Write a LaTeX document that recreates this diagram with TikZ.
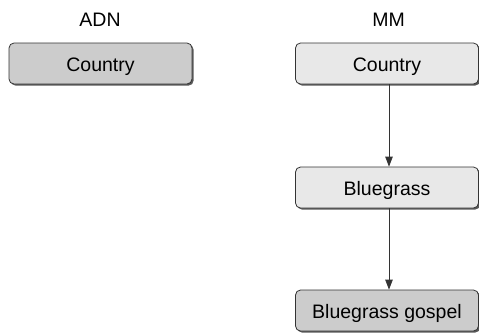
\documentclass[tikz,border=0pt]{standalone}
\usepackage{fontspec}
\setmainfont{Liberation Sans}
\usetikzlibrary{shadows,arrows.meta}
\definecolor{boxdark}{HTML}{CCCCCC}
\definecolor{boxlight}{HTML}{E8E8E8}
\definecolor{edge}{HTML}{333333}
\begin{document}
\begin{tikzpicture}[x=1pt,y=1pt,
  box/.style={draw=edge, line width=0.8pt, rounded corners=5pt, minimum width=183pt, minimum height=41pt,
    inner sep=0pt, text height=16.5pt, text depth=0pt, font=\fontsize{19.5}{23}\selectfont,
    drop shadow={shadow xshift=1.6pt, shadow yshift=-1.6pt, fill=black!65, opacity=1}},
  lbl/.style={font=\fontsize{19.5}{23}\selectfont, inner sep=0pt, text height=14pt, text depth=0pt},
  arr/.style={draw=edge, line width=0.8pt, -{Triangle[length=10pt,width=7.5pt]}}]
\useasboundingbox (0,0) rectangle (479,-333);
\node[lbl] (adn) at (100,-19) {ADN};
\node[lbl] (mm) at (388.5,-19) {MM};
\node[box, fill=boxdark] (c1) at (100.5,-63.5) {Country};
\node[box, fill=boxlight] (c2) at (387,-63.5) {Country};
\node[box, fill=boxlight] (b) at (387,-187.5) {Bluegrass};
\node[box, fill=boxdark] (g) at (387,-310.5) {Bluegrass gospel};
\draw[arr] (c2.south -| 389,0) -- (b.north -| 389,0);
\draw[arr] (b.south -| 389,0) -- (g.north -| 389,0);
\end{tikzpicture}
\end{document}
